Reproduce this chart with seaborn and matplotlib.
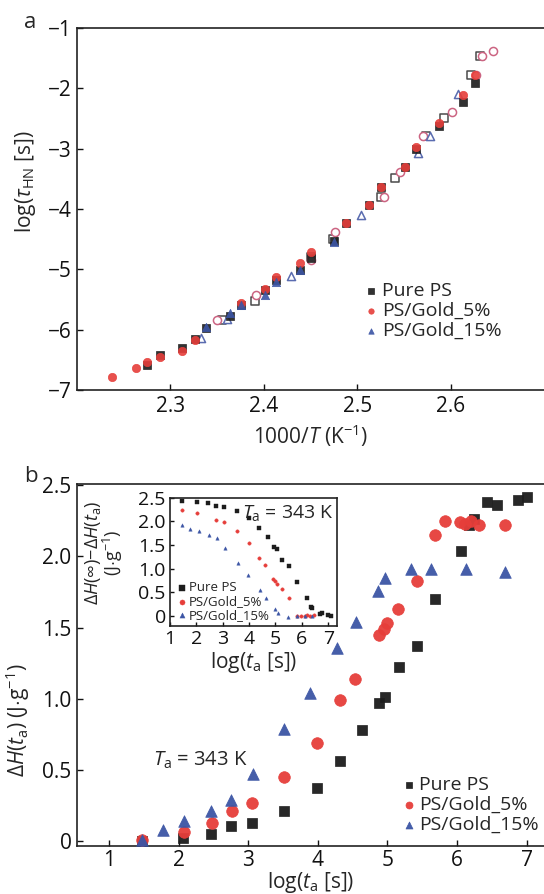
import matplotlib
matplotlib.use('Agg')
import matplotlib.pyplot as plt
import seaborn as sns

# ---- panel a : relaxation time vs 1000/T ----
a_ps_x = [2.275, 2.289, 2.312, 2.326, 2.338, 2.364, 2.376, 2.401, 2.413, 2.439, 2.451, 2.475, 2.488, 2.513,
          2.525, 2.551, 2.563, 2.588, 2.613, 2.626]
a_ps_y = [-6.58, -6.42, -6.31, -6.15, -5.98, -5.78, -5.59, -5.35, -5.18, -5.01, -4.82, -4.53, -4.23, -3.94,
          -3.63, -3.30, -3.00, -2.63, -2.23, -1.91]
a_g5_x = [2.237, 2.263, 2.275, 2.289, 2.312, 2.326, 2.376, 2.401, 2.413, 2.439, 2.451, 2.488, 2.513, 2.525,
          2.551, 2.563, 2.588, 2.613, 2.626]
a_g5_y = [-6.78, -6.64, -6.53, -6.46, -6.36, -6.17, -5.56, -5.32, -5.12, -4.90, -4.71, -4.23, -3.94, -3.63,
          -3.30, -2.97, -2.57, -2.11, -1.78]
a_g15_x = [2.338, 2.364, 2.376, 2.401, 2.413, 2.439, 2.475]
a_g15_y = [-5.95, -5.72, -5.59, -5.43, -5.21, -5.01, -4.54]
# open symbols
a_ps_open_x = [2.355, 2.391, 2.451, 2.474, 2.525, 2.540, 2.574, 2.593, 2.622, 2.632]
a_ps_open_y = [-5.84, -5.53, -4.79, -4.50, -3.80, -3.49, -2.79, -2.50, -1.78, -1.47]
a_g5_open_x = [2.350, 2.392, 2.451, 2.476, 2.529, 2.546, 2.570, 2.602, 2.627, 2.634, 2.645]
a_g5_open_y = [-5.84, -5.43, -4.84, -4.39, -3.80, -3.38, -2.79, -2.39, -1.78, -1.47, -1.38]
a_g15_open_x = [2.333, 2.361, 2.429, 2.504, 2.565, 2.578, 2.608]
a_g15_open_y = [-6.14, -5.83, -5.11, -4.10, -3.08, -2.79, -2.09]

# ---- panel b : enthalpy recovery vs log(ta) ----
b_ps_x = [1.48, 2.07, 2.47, 2.76, 3.06, 3.52, 3.99, 4.32, 4.63, 4.88, 4.97, 5.16, 5.42, 5.69, 6.06, 6.17,
          6.25, 6.43, 6.57, 6.88, 7.00]
b_ps_y = [0.0, 0.02, 0.05, 0.105, 0.13, 0.21, 0.37, 0.56, 0.78, 0.97, 1.01, 1.22, 1.37, 1.70, 2.04, 2.22,
          2.26, 2.38, 2.36, 2.40, 2.42]
b_g5_x = [1.48, 2.08, 2.48, 2.77, 3.06, 3.52, 3.99, 4.32, 4.53, 4.88, 4.95, 5.00, 5.15, 5.42, 5.69, 5.83,
          6.05, 6.12, 6.20, 6.32, 6.69]
b_g5_y = [0.01, 0.06, 0.13, 0.21, 0.27, 0.45, 0.69, 0.99, 1.14, 1.45, 1.49, 1.53, 1.63, 1.83, 2.15, 2.25,
          2.24, 2.23, 2.25, 2.22, 2.22]
b_g15_x = [1.47, 1.78, 2.08, 2.47, 2.76, 3.07, 3.52, 3.89, 4.28, 4.55, 4.87, 4.97, 5.34, 5.62, 6.13, 6.69]
b_g15_y = [0.01, 0.08, 0.14, 0.21, 0.29, 0.47, 0.79, 1.04, 1.36, 1.54, 1.76, 1.85, 1.91, 1.91, 1.91, 1.89]

# inset: dH(inf) - dH(ta)
i_ps_x = [1.46, 2.04, 2.44, 2.73, 3.05, 3.53, 4.00, 4.38, 4.70, 4.96, 5.05, 5.25, 5.53, 5.81, 6.20, 6.33,
          6.38, 6.67, 6.77, 6.99, 7.10]
i_ps_y = [2.44, 2.41, 2.39, 2.33, 2.31, 2.22, 2.07, 1.87, 1.66, 1.45, 1.41, 1.19, 1.05, 0.72, 0.37, 0.19,
          0.16, 0.04, 0.05, 0.01, 0.0]
i_g5_x = [1.46, 2.04, 2.73, 3.05, 3.53, 4.00, 4.38, 4.60, 4.92, 5.00, 5.05, 5.23, 5.51, 5.80, 5.95, 6.10,
          6.18, 6.30, 6.45]
i_g5_y = [2.24, 2.17, 2.03, 1.98, 1.79, 1.54, 1.22, 1.07, 0.78, 0.73, 0.68, 0.57, 0.37, 0.0, 0.0, 0.0,
          0.01, 0.0, 0.01]
i_g15_x = [1.46, 1.77, 2.09, 2.49, 2.78, 3.10, 3.58, 3.94, 4.42, 4.65, 4.99, 5.08, 5.47, 5.80, 6.10, 6.40]
i_g15_y = [1.92, 1.85, 1.79, 1.71, 1.64, 1.44, 1.11, 0.86, 0.55, 0.37, 0.14, 0.06, -0.02, 0.0, 0.0, 0.0]

labels = ['Pure PS', 'PS/Gold_5%', 'PS/Gold_15%']
colors = ['#1c1c1c', '#e63e3a', '#3c55a5']
open_colors = ['#4a4a4a', '#cc6482', '#5a6cb0']
markers = ['s', 'o', '^']

sns.set_style('ticks')
plt.rcParams['font.family'] = ['Open Sans', 'DejaVu Sans']
plt.rcParams['mathtext.fontset'] = 'custom'
plt.rcParams['mathtext.rm'] = 'Open Sans'
plt.rcParams['mathtext.it'] = 'Open Sans:italic'
plt.rcParams['mathtext.bf'] = 'Open Sans:bold'
plt.rcParams['axes.unicode_minus'] = True

fig = plt.figure(figsize=(5.44, 8.94), dpi=100)
ax1 = fig.add_axes([0.1415, 0.5638, 0.8585, 0.405])
ax2 = fig.add_axes([0.1415, 0.0537, 0.8585, 0.405])
axi = fig.add_axes([0.3125, 0.2998, 0.3064, 0.1432])


def style_axis(ax, size, length=4):
    ax.tick_params(direction='in', length=length, width=1, labelsize=size, pad=4, colors='#111111')
    ax.spines['right'].set_visible(False)
    for s in ['left', 'bottom', 'top']:
        ax.spines[s].set_linewidth(1.2)
        ax.spines[s].set_color('#222222')


# panel a
open_sets = [(a_ps_open_x, a_ps_open_y), (a_g5_open_x, a_g5_open_y), (a_g15_open_x, a_g15_open_y)]
for (xs, ys), c, m in zip(open_sets, open_colors, markers):
    sns.scatterplot(x=xs, y=ys, ax=ax1, marker=m, s=34, facecolor='white', edgecolor=c, linewidth=1.1, zorder=2)
filled_a = [(a_ps_x, a_ps_y), (a_g5_x, a_g5_y), (a_g15_x, a_g15_y)]
for (xs, ys), c, m, lab in zip(filled_a, colors, markers, labels):
    sns.scatterplot(x=xs, y=ys, ax=ax1, marker=m, s=36, color=c, edgecolor=c, linewidth=0.5, alpha=0.9,
                    label=lab, zorder=3)
ax1.set_xlim(2.2, 2.7)
ax1.set_ylim(-7, -1)
ax1.set_xticks([2.3, 2.4, 2.5, 2.6])
ax1.set_yticks([-7, -6, -5, -4, -3, -2, -1])
style_axis(ax1, 15)
ax1.set_xlabel(r'1000/$T$ (K$^{-1}$)', fontsize=15, labelpad=4)
ax1.set_ylabel(r'log($\tau_{\rm HN}$ [s])', fontsize=15)
ax1.yaxis.set_label_coords(-0.084, 0.575)
ax1.legend(loc='center left', bbox_to_anchor=(0.62, 0.218), frameon=False, fontsize=14, markerscale=0.65,
           handlelength=0.5, handletextpad=0.3, labelspacing=0.1, borderpad=0, borderaxespad=0)
fig.text(0.045, 0.975, 'a', fontsize=16, va='center')

# panel b
filled_b = [(b_ps_x, b_ps_y), (b_g5_x, b_g5_y), (b_g15_x, b_g15_y)]
sizes_b = [42, 70, 70]
for (xs, ys), c, m, lab, sz in zip(filled_b, colors, markers, labels, sizes_b):
    sns.scatterplot(x=xs, y=ys, ax=ax2, marker=m, s=sz, color=c, edgecolor=c, linewidth=0.5, alpha=0.95,
                    label=lab, zorder=3)
ax2.set_xlim(0.54, 7.25)
ax2.set_ylim(-0.035, 2.51)
ax2.set_xticks([1, 2, 3, 4, 5, 6, 7])
ax2.set_yticks([0, 0.5, 1.0, 1.5, 2.0, 2.5])
ax2.set_yticklabels(['0', '0.5', '1.0', '1.5', '2.0', '2.5'])
style_axis(ax2, 15)
ax2.tick_params(axis='x', pad=3)
ax2.set_xlabel(r'log($t_{\rm a}$ [s])', fontsize=15, labelpad=-1)
ax2.set_ylabel(r'$\Delta H$($t_{\rm a}$) (J$\cdot$g$^{-1}$)', fontsize=15)
ax2.yaxis.set_label_coords(-0.096, 0.348)
ax2.text(1.63, 0.49, r'$T_{\rm a}$ = 343 K', fontsize=14.5, va='bottom')
ax2.legend(loc='center left', bbox_to_anchor=(0.70, 0.113), frameon=False, fontsize=14, markerscale=0.6,
           handlelength=0.5, handletextpad=0.3, labelspacing=0.1, borderpad=0, borderaxespad=0)
fig.text(0.045, 0.467, 'b', fontsize=16, va='center')

# inset
inset_sets = [(i_ps_x, i_ps_y), (i_g5_x, i_g5_y), (i_g15_x, i_g15_y)]
for (xs, ys), c, m, lab in zip(inset_sets, colors, markers, labels):
    sns.scatterplot(x=xs, y=ys, ax=axi, marker=m, s=6, color=c, edgecolor=c, linewidth=0.3, label=lab)
axi.set_xlim(1.0, 7.32)
axi.set_ylim(-0.22, 2.5)
axi.set_xticks([1, 2, 3, 4, 5, 6, 7])
axi.set_yticks([0, 0.5, 1.0, 1.5, 2.0, 2.5])
axi.set_yticklabels(['0', '0.5', '1.0', '1.5', '2.0', '2.5'])
axi.tick_params(direction='in', length=3, width=1, labelsize=14, pad=3, colors='#111111')
for s in axi.spines.values():
    s.set_linewidth(1.2)
    s.set_color('#222222')
axi.set_xlabel(r'log($t_{\rm a}$ [s])', fontsize=15, labelpad=1)
axi.set_ylabel('$\\Delta H$(\u221e)\u2212$\\Delta H$($t_{\\rm a}$)\n(J$\\cdot$g$^{-1}$)', fontsize=13,
               linespacing=0.9)
axi.yaxis.set_label_coords(-0.27, 0.57)
axi.text(0.98, 0.96, r'$T_{\rm a}$ = 343 K', transform=axi.transAxes, fontsize=14, ha='right', va='top')
axi.legend(loc='center left', bbox_to_anchor=(0.05, 0.19), frameon=False, fontsize=9.5, markerscale=1.5,
           handlelength=0.5, handletextpad=0.3, labelspacing=0.05, borderpad=0, borderaxespad=0)

fig.savefig('out.png', dpi=100)
